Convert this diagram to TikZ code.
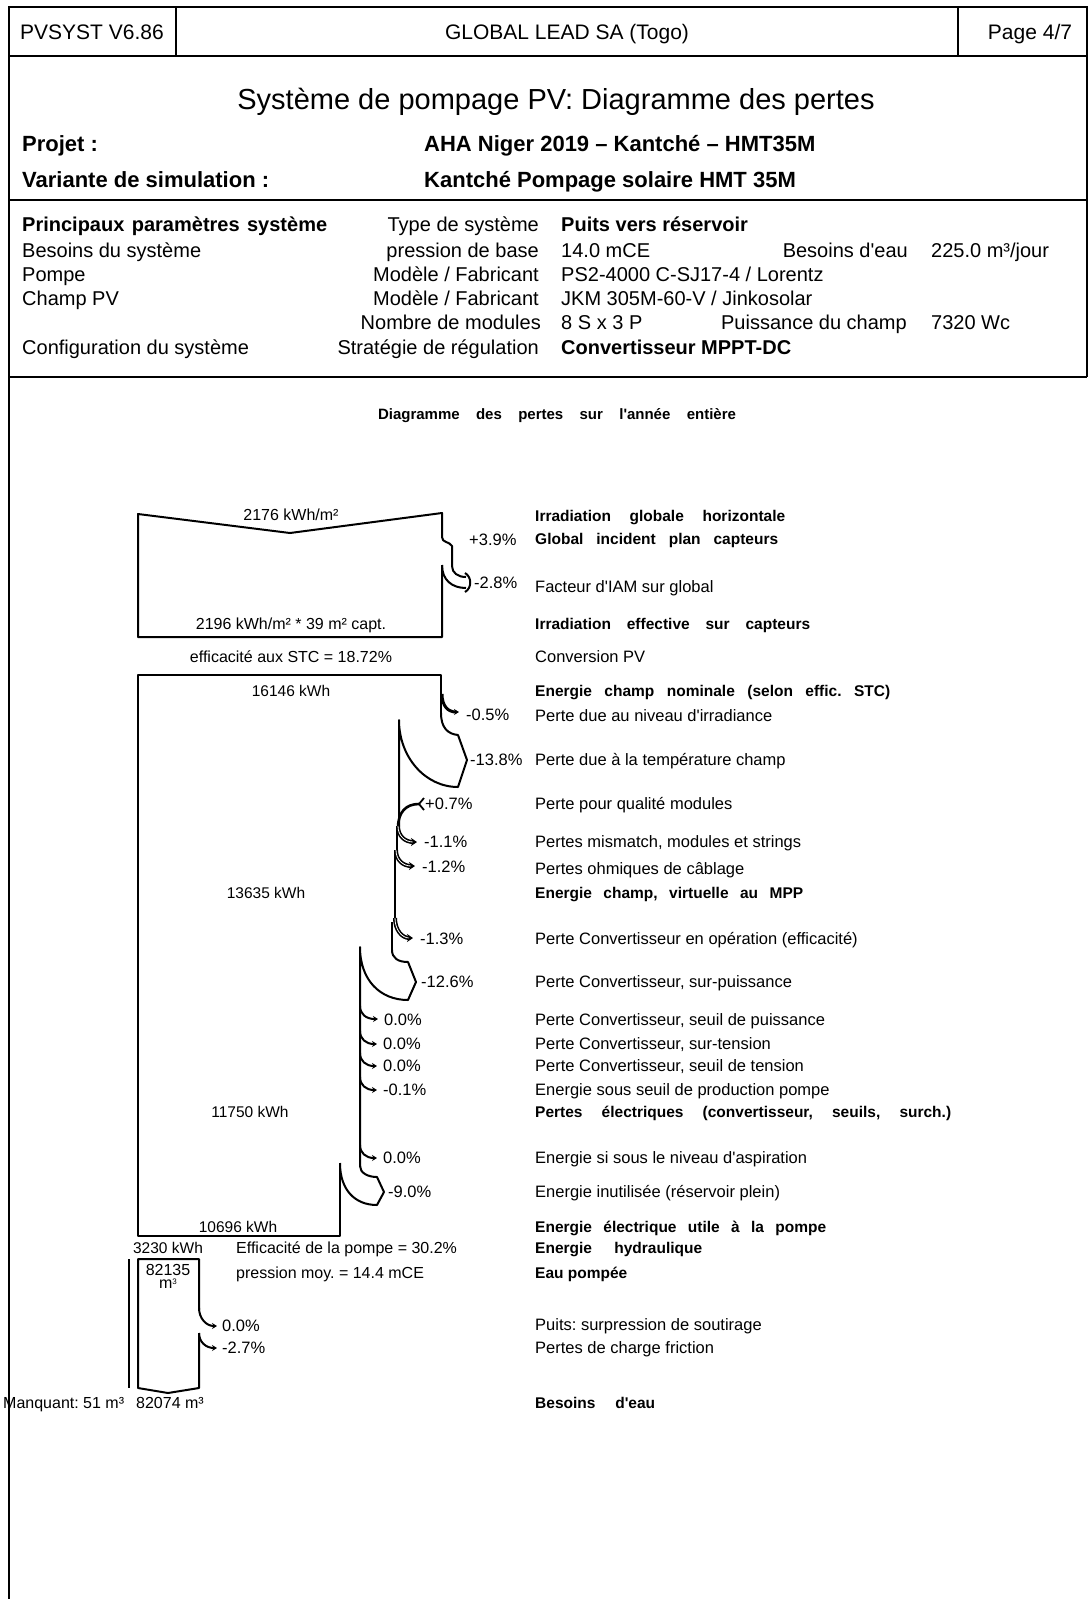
\documentclass[tikz,border=0pt]{standalone}
\usepackage{fontspec}
\setmainfont{Liberation Sans}[Ligatures=TeXOff]
\usetikzlibrary{arrows.meta}
\newcommand\fsz[1]{\fontsize{#1}{#1}\selectfont}
\newcommand\sw[2]{\makebox[#1pt][s]{#2}}
\frenchspacing
\begin{document}
\frenchspacing
\begin{tikzpicture}[x=1pt,y=-1pt,
  frm/.style={line width=1.4pt},
  dl/.style={line width=2pt,line join=round},
  sl/.style={line width=2pt,-{Stealth[length=5pt,width=6pt]}},
  dsl/.style={line width=1.6pt,double,double distance=0.8pt,-{Stealth[length=6pt,width=8pt]}},
  tx/.style={inner sep=0pt,text depth=0pt},
  hdr/.style={tx,font=\fsz{21},text height=15pt},
  ttl/.style={tx,font=\fsz{29},text height=20.8pt},
  prj/.style={tx,font=\fsz{22}\bfseries,text height=15.8pt,anchor=west},
  pl/.style={tx,font=\fsz{20},text height=14.3pt,anchor=west},
  pr/.style={tx,font=\fsz{20},text height=14.3pt,anchor=east},
  pb/.style={tx,font=\fsz{20}\bfseries,text height=14.3pt,anchor=west},
  lab/.style={tx,font=\fsz{16.5},text height=11.8pt,anchor=west},
  blab/.style={tx,font=\fsz{15.5}\bfseries,text height=11.1pt,anchor=west},
  num/.style={tx,font=\fsz{15.5},text height=11.1pt},
  val/.style={tx,font=\fsz{16},text height=11.5pt},
  pct/.style={tx,font=\fsz{16.5},text height=11.8pt,anchor=west},
]
\fill[white] (0,0) rectangle (1090,1599);
\useasboundingbox (0,0) rectangle (1090,1599);

% ---------- page frame ----------
\draw[frm] (9,1599) -- (9,7) -- (1087,7) -- (1087,377);
\draw[frm] (9,56) -- (1087,56);
\draw[frm] (176,7) -- (176,56);
\draw[frm] (958,7) -- (958,56);
\draw[frm] (9,200) -- (1087,200);
\draw[frm] (9,377) -- (1087,377);

% ---------- header ----------
\node[hdr] (pv) at (92,32) {PVSYST V6.86};
\node[hdr] (co) at (567,32) {GLOBAL LEAD SA (Togo)};
\node[hdr] (pg) at (1030,32) {Page 4/7};
\node[ttl] (title) at (556,99) {Système de pompage PV: Diagramme des pertes};
\node[prj] (pj) at (22,144) {Projet :};
\node[prj] (pjv) at (424,144) {AHA Niger 2019 – Kantché – HMT35M};
\node[prj] (va) at (22,180) {Variante de simulation :};
\node[prj] (vav) at (424,180) {Kantché Pompage solaire HMT 35M};

% ---------- parameters ----------
\node[pb] (p1a) at (22,224) {\sw{305}{Principaux paramètres système}};
\node[pr] (p1b) at (539,224) {Type de système};
\node[pb] (p1c) at (561,224) {Puits vers réservoir};
\node[pl] (p2a) at (22,250) {Besoins du système};
\node[pr] (p2b) at (539,250) {pression de base};
\node[pl] (p2c) at (561,250) {14.0 mCE};
\node[pr] (p2d) at (908,250) {Besoins d'eau};
\node[pl] (p2e) at (931,250) {225.0 m³/jour};
\node[pl] (p3a) at (22,274) {Pompe};
\node[pr] (p3b) at (539,274) {Modèle / Fabricant};
\node[pl] (p3c) at (561,274) {PS2-4000 C-SJ17-4 / Lorentz};
\node[pl] (p4a) at (22,298) {Champ PV};
\node[pr] (p4b) at (539,298) {Modèle / Fabricant};
\node[pl] (p4c) at (561,298) {JKM 305M-60-V / Jinkosolar};
\node[pr] (p5b) at (541,322) {Nombre de modules};
\node[pl] (p5c) at (561,322) {8 S x 3 P};
\node[pr] (p5d) at (907,322) {Puissance du champ};
\node[pl] (p5e) at (931,322) {7320 Wc};
\node[pl] (p6a) at (22,347) {Configuration du système};
\node[pr] (p6b) at (539,347) {Stratégie de régulation};
\node[pb] (p6c) at (561,347) {Convertisseur MPPT-DC};

\node[tx,font=\fsz{15}\bfseries,text height=10.7pt] (dg) at (557,414)
  {\sw{358}{Diagramme des pertes sur l'année entière}};

% ---------- irradiation box ----------
\draw[dl] (442,565) -- (442,637) -- (138,637) -- (138,514) -- (290,533) -- (442,513)
  -- (442,537) .. controls (442,543) and (449,541) .. (452,546) -- (452,566)
  .. controls (452,573) and (458,577) .. (466,577);
\draw[dl] (442,565) .. controls (442,580) and (452,588) .. (466,588);
\draw[dl] (465,573) .. controls (472,577) and (472,588) .. (465,592);
\node[val] (irr1) at (291,515) {2176 kWh/m²};
\node[val] (irr2) at (291,624) {2196 kWh/m² * 39 m² capt.};
\node[val] (eff) at (291,657) {efficacité aux STC = 18.72\%};
\node[pct] (g39) at (469,540) {+3.9\%};
\node[pct] (l28) at (474,583) {-2.8\%};

% ---------- energy box ----------
\draw[dl] (441,713) -- (441,694) -- (441,675) -- (138,675) -- (138,1236) -- (340,1236) -- (340,1163);
% -0.5%
\draw[sl,line width=3pt] (442,694) .. controls (442,706) and (448,712) .. (459,712);
\node[pct] (a05) at (466,715) {-0.5\%};
% -13.8%
\draw[dl] (441,713) .. controls (441,728) and (448,734) .. (458,735) -- (467,760) -- (458,787)
  .. controls (425,787) and (399,757) .. (399,720) -- (399,826);
\node[pct] (a138) at (470,760) {-13.8\%};
% +0.7%
\draw[line width=2.6pt] (398,828) .. controls (398,812) and (406,804) .. (419,804);
\draw[line width=1.8pt] (424,798) -- (419,804) -- (424,810);
\node[pct] (a07) at (425,804) {+0.7\%};
% -1.1% / -1.2%
\draw[dl] (397,826) -- (397,850);
\draw[dsl] (398,826) .. controls (398,836) and (405,842) .. (417,842);
\node[pct] (a11) at (424,842) {-1.1\%};
\draw[dl] (395,850) -- (395,922);
\draw[dsl] (396,850) .. controls (396,860) and (403,866) .. (415,866);
\node[pct] (a12) at (422,867) {-1.2\%};
\node[num] (e2) at (266,893) {13635 kWh};
% -1.3%
\draw[dsl] (395,918) .. controls (395,930) and (402,938) .. (413,938);
\node[pct] (a13) at (420,939) {-1.3\%};
\draw[dl] (392,922) -- (392,950);
% -12.6%
\draw[dl] (392,950) .. controls (392,958) and (398,962) .. (408,962) -- (416,982) -- (408,1000)
  .. controls (380,1000) and (360,980) .. (360,947) -- (360,1167);
\node[pct] (a126) at (421,982) {-12.6\%};
% small losses
\draw[sl] (360,1006) .. controls (360,1014) and (366,1019) .. (378,1019);
\node[pct] (b1) at (384,1020) {0.0\%};
\draw[sl] (360,1031) .. controls (360,1039) and (366,1044) .. (377,1044);
\node[pct] (b2) at (383,1044) {0.0\%};
\draw[sl] (360,1053) .. controls (360,1061) and (366,1066) .. (377,1066);
\node[pct] (b3) at (383,1066) {0.0\%};
\draw[sl] (360,1077) .. controls (360,1085) and (366,1090) .. (377,1090);
\node[pct] (b4) at (383,1090) {-0.1\%};
\draw[sl] (360,1145) .. controls (360,1153) and (366,1158) .. (377,1158);
\node[pct] (b5) at (383,1158) {0.0\%};
% -9.0%
\draw[dl] (360,1166) .. controls (360,1173) and (368,1177) .. (377,1177) -- (384,1192) -- (377,1205)
  .. controls (355,1205) and (340,1190) .. (340,1163);
\node[pct] (a90) at (388,1192) {-9.0\%};
\node[num] (e1) at (291,691) {16146 kWh};
\node[num] (e3) at (250,1112) {11750 kWh};
\node[num] (e4) at (238,1227) {10696 kWh};

% ---------- pump / water ----------
\node[num] (hyd) at (168,1248) {3230 kWh};
\node[val,anchor=west] (peff) at (236,1248) {Efficacité de la pompe = 30.2\%};
\node[val,anchor=west] (pmoy) at (236,1273) {pression moy. = 14.4 mCE};
\draw[dl] (199,1333) -- (199,1388) -- (168,1393) -- (138,1388) -- (138,1259) -- (199,1259) -- (199,1310);
\draw[line width=2.5pt] (129,1259) -- (129,1388);
\draw[sl] (199,1308) .. controls (199,1318) and (206,1326) .. (217,1326);
\node[pct] (w1) at (222,1326) {0.0\%};
\draw[sl] (199,1333) .. controls (199,1342) and (206,1348) .. (217,1348);
\node[pct] (w2) at (222,1348) {-2.7\%};
\node[val] (wv1) at (168,1270) {82135};
\node[val] (wv2) at (168,1283) {m\raisebox{4pt}{\fsz{8}3}};
\node[val,anchor=west] (man) at (3,1403) {Manquant: 51 m³};
\node[val] (wv3) at (170,1403) {82074 m³};

% ---------- right labels ----------
\node[blab] (l1) at (535,516) {\sw{250}{Irradiation globale horizontale}};
\node[blab] (l2) at (535,539) {\sw{243}{Global incident plan capteurs}};
\node[lab] (l3) at (535,587) {Facteur d'IAM sur global};
\node[blab] (l4) at (535,624) {\sw{275}{Irradiation effective sur capteurs}};
\node[lab] (l5) at (535,657) {Conversion PV};
\node[blab] (l6) at (535,691) {\sw{355}{Energie champ nominale (selon effic. STC)}};
\node[lab] (l7) at (535,716) {Perte due au niveau d'irradiance};
\node[lab] (l8) at (535,760) {Perte due à la température champ};
\node[lab] (l9) at (535,804) {Perte pour qualité modules};
\node[lab] (l10) at (535,842) {Pertes mismatch, modules et strings};
\node[lab] (l11) at (535,869) {Pertes ohmiques de câblage};
\node[blab] (l12) at (535,893) {\sw{268}{Energie champ, virtuelle au MPP}};
\node[lab] (l13) at (535,939) {Perte Convertisseur en opération (efficacité)};
\node[lab] (l14) at (535,982) {Perte Convertisseur, sur-puissance};
\node[lab] (l15) at (535,1020) {Perte Convertisseur, seuil de puissance};
\node[lab] (l16) at (535,1044) {Perte Convertisseur, sur-tension};
\node[lab] (l17) at (535,1066) {Perte Convertisseur, seuil de tension};
\node[lab] (l18) at (535,1090) {Energie sous seuil de production pompe};
\node[blab] (l19) at (535,1112) {\sw{416}{Pertes électriques (convertisseur, seuils, surch.)}};
\node[lab] (l20) at (535,1158) {Energie si sous le niveau d'aspiration};
\node[lab] (l21) at (535,1192) {Energie inutilisée (réservoir plein)};
\node[blab] (l22) at (535,1227) {\sw{291}{Energie électrique utile à la pompe}};
\node[blab] (l23) at (535,1248) {\sw{167}{Energie hydraulique}};
\node[blab] (l24) at (535,1273) {Eau pompée};
\node[lab] (l25) at (535,1325) {Puits: surpression de soutirage};
\node[lab] (l26) at (535,1348) {Pertes de charge friction};
\node[blab] (l27) at (535,1403) {\sw{120}{Besoins d'eau}};
\end{tikzpicture}
\end{document}
